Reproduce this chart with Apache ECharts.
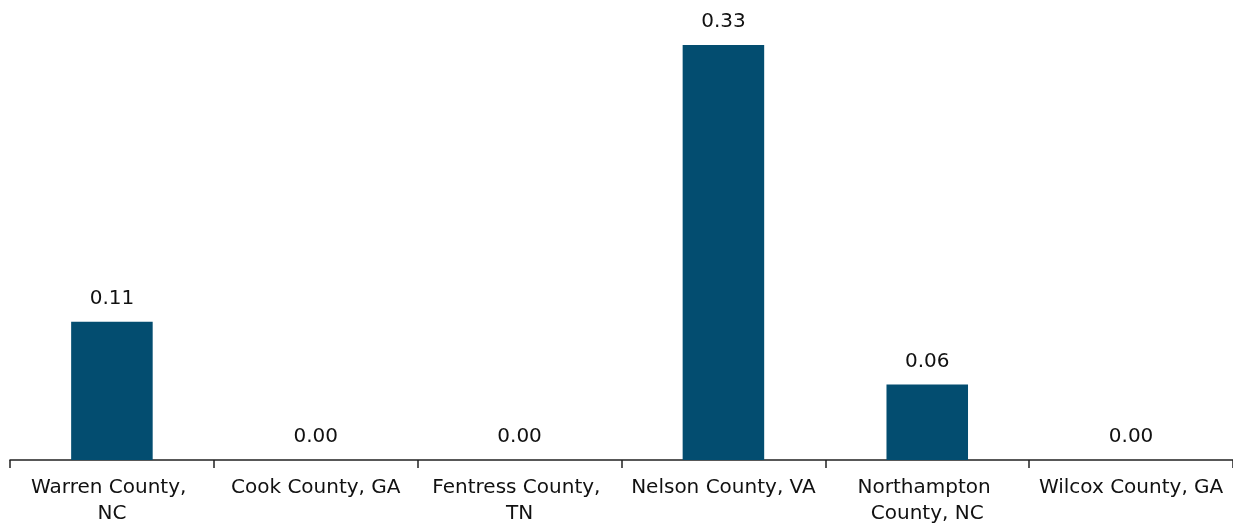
<!DOCTYPE html>
<html>
<head>
<meta charset="utf-8">
<script src="https://cdn.jsdelivr.net/npm/echarts@6/dist/echarts.min.js"></script>
<style>
  html, body { margin: 0; padding: 0; background: #fff; }
  #chart { width: 1233px; height: 525px; }
</style>
</head>
<body>
<div id="chart"></div>
<script>
// County names along the category axis
const counties = [
  'Warren County, NC',
  'Cook County, GA',
  'Fentress County, TN',
  'Nelson County, VA',
  'Northampton County, NC',
  'Wilcox County, GA'
];
// One value per county
const values = [0.11, 0.00, 0.00, 0.33, 0.06, 0.00];

const FONT = '"DejaVu Sans", sans-serif';

const chart = echarts.init(document.getElementById('chart'));
chart.setOption({
  animation: false,
  grid: {
    left: 10, right: 0, top: 45, bottom: 65,
    containLabel: false,
    outerBoundsMode: 'none'
  },
  xAxis: {
    type: 'category',
    data: counties,
    axisLine: { lineStyle: { color: '#222', width: 1.5 } },
    axisTick: { show: true, length: 8, lineStyle: { color: '#222', width: 1.5 } },
    axisLabel: {
      color: '#111',
      fontFamily: FONT,
      fontSize: 20,
      lineHeight: 26,
      margin: 15,
      width: 190,
      overflow: 'break',
      interval: 0
    }
  },
  yAxis: {
    type: 'value',
    min: 0,
    max: 0.33,
    show: false,
    splitLine: { show: false }
  },
  series: [{
    type: 'bar',
    data: values,
    barWidth: '40%',
    itemStyle: { color: '#034d70' },
    label: {
      show: true,
      position: 'top',
      distance: 13,
      color: '#111',
      fontFamily: FONT,
      fontSize: 20,
      formatter: p => p.value.toFixed(2)
    }
  }]
});
</script>
</body>
</html>
